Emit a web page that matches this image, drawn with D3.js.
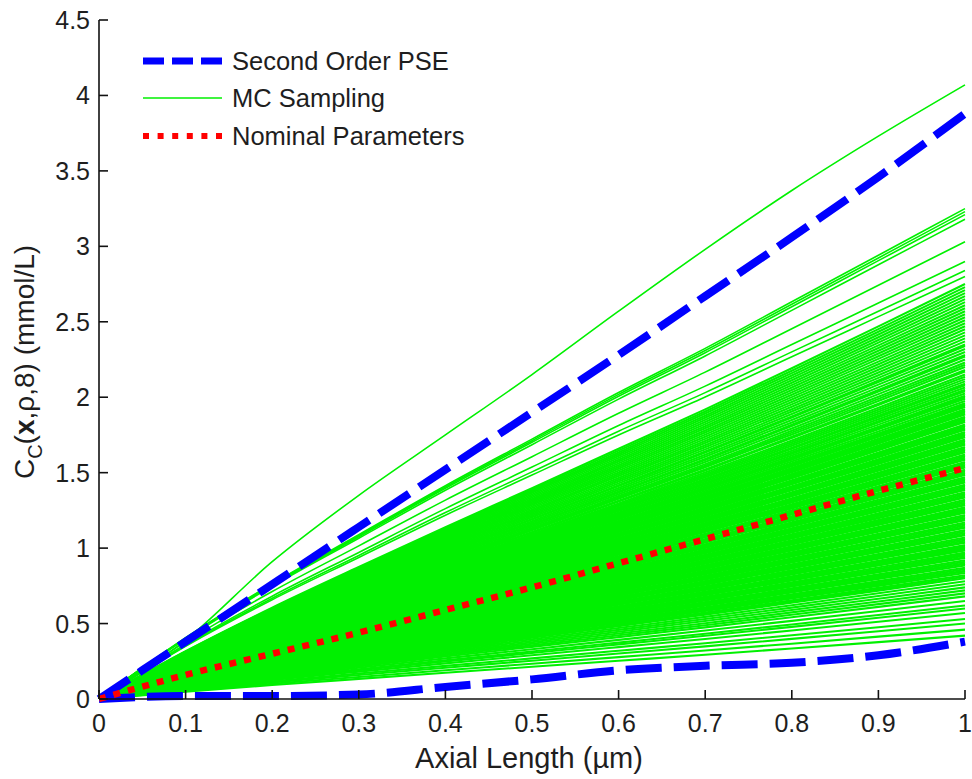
<!DOCTYPE html>
<html><head><meta charset="utf-8">
<script src="https://cdn.jsdelivr.net/npm/d3@7"></script>
<style>html,body{margin:0;padding:0;background:#fff;}svg{display:block;}text{font-family:"Liberation Sans",Arial,sans-serif;fill:#1e1e1e;}</style>
</head><body><svg id="chart" width="972" height="779"></svg>
<script>
// ---------- data ----------
const xValues = [0, 0.1, 0.2, 0.3, 0.4, 0.5, 0.6, 0.7, 0.8, 0.9, 1.0];
const pseUpper = [0, 0.38, 0.76, 1.14, 1.52, 1.90, 2.28, 2.67, 3.06, 3.46, 3.88];
const pseLower = [0, 0.02, 0.02, 0.03, 0.08, 0.13, 0.19, 0.22, 0.24, 0.29, 0.38];
const nominal  = [0, 0.16, 0.30, 0.44, 0.59, 0.74, 0.90, 1.06, 1.22, 1.38, 1.53];
const mcTopLine = [0, 0.39, 0.91, 1.35, 1.75, 2.15, 2.57, 2.98, 3.37, 3.73, 4.07];
const mcUpperProfile = [0, 0.125, 0.235, 0.335, 0.435, 0.53, 0.625, 0.715, 0.81, 0.905, 1];
const mcUpperEnds = [3.25, 3.23, 3.21, 3.18, 3.03, 2.90, 2.84, 2.80];
const mcBundleProfile = [0, 0.115, 0.22, 0.318, 0.414, 0.508, 0.603, 0.698, 0.797, 0.898, 1];
const mcBundleEnds = [
 0.42,0.46,0.50,0.53,0.57,0.60,0.62,0.65,0.68,0.70,0.72,0.74,0.76,0.78,
 0.80,0.81,0.82,0.835,0.845,0.85,0.86,0.87,0.885,0.895,0.90,0.91,0.92,0.935,0.94,0.95,0.96,0.97,0.985,0.99,
 1.00,1.01,1.02,1.035,1.04,1.05,1.06,1.07,1.085,1.09,1.10,1.11,1.12,1.135,1.14,1.15,1.16,1.17,1.185,1.19,
 1.20,1.21,1.22,1.235,1.24,1.25,1.26,1.27,1.285,1.29,1.30,1.31,1.32,1.335,1.34,1.35,1.36,1.37,1.385,1.39,
 1.40,1.41,1.42,1.435,1.44,1.45,1.46,1.47,1.485,1.49,1.50,1.51,1.52,1.535,1.54,1.55,1.56,1.57,1.585,1.59,
 1.60,1.61,1.62,1.635,1.64,1.65,1.66,1.67,1.685,1.69,1.70,1.71,1.72,1.735,1.74,1.75,1.76,1.77,1.785,1.79,
 1.80,1.81,1.82,1.835,1.84,1.85,1.86,1.87,1.885,1.89,1.90,1.91,1.92,1.935,1.94,1.95,1.96,1.975,1.99,2.00,
 2.01,2.025,2.04,2.05,2.065,2.08,2.09,2.105,2.12,2.135,2.15,2.17,2.18,2.20,2.215,2.23,2.25,2.27,2.28,2.30,
 2.32,2.34,2.35,2.37,2.39,2.41,2.43,2.45,2.47,2.49,2.51,2.53,2.55,2.57,2.59,2.61,2.63,2.65,2.67,2.69,2.71,2.73,2.75
];
const xTicks = [0, 0.1, 0.2, 0.3, 0.4, 0.5, 0.6, 0.7, 0.8, 0.9, 1];
const yTicks = [0, 0.5, 1, 1.5, 2, 2.5, 3, 3.5, 4, 4.5];
const legendLabels = ["Second Order PSE", "MC Sampling", "Nominal Parameters"];

// ---------- layout ----------
const svg = d3.select("#chart");
const x = d3.scaleLinear().domain([0, 1]).range([99, 965]);
const y = d3.scaleLinear().domain([0, 4.5]).range([699, 20]);
const GREEN = "#00f000", BLUE = "#0000ff", RED = "#ff0000";

const line = d3.line().x((d, i) => x(xValues[i])).y(d => y(d)).curve(d3.curveMonotoneX);

// MC sampling curves
const bundle = mcBundleEnds.map(e => mcBundleProfile.map(p => p * e));
const upper = mcUpperEnds.map(e => mcUpperProfile.map(p => p * e));

const gMc = svg.append("g").attr("fill", "none").attr("stroke", GREEN);
gMc.selectAll("path.b").data(bundle).join("path").attr("class", "b")
  .attr("d", line).attr("stroke-width", 2.1);
gMc.selectAll("path.u").data(upper).join("path").attr("class", "u")
  .attr("d", line).attr("stroke-width", 1.6);
gMc.append("path").attr("d", line(mcTopLine)).attr("stroke-width", 1.6);

// PSE bounds
[pseUpper, pseLower].forEach(s => {
  svg.append("path").attr("d", line(s)).attr("fill", "none").attr("stroke", BLUE)
    .attr("stroke-width", 8).attr("stroke-dasharray", "36,12");
});
// nominal
svg.append("path").attr("d", line(nominal)).attr("fill", "none").attr("stroke", RED)
  .attr("stroke-width", 6.5).attr("stroke-dasharray", "7,8");

// axes
const axisColor = "#111";
svg.append("line").attr("x1", 99).attr("x2", 99).attr("y1", 20).attr("y2", 699).attr("stroke", axisColor).attr("stroke-width", 1.6);
svg.append("line").attr("x1", 99).attr("x2", 965).attr("y1", 699).attr("y2", 699).attr("stroke", axisColor).attr("stroke-width", 1.6);
svg.selectAll(".xt").data(xTicks).join("line").attr("x1", d => x(d)).attr("x2", d => x(d))
  .attr("y1", 699).attr("y2", 690).attr("stroke", axisColor).attr("stroke-width", 1.6);
svg.selectAll(".yt").data(yTicks).join("line").attr("x1", 99).attr("x2", 108)
  .attr("y1", d => y(d)).attr("y2", d => y(d)).attr("stroke", axisColor).attr("stroke-width", 1.6);

svg.selectAll(".xl").data(xTicks).join("text").attr("x", d => x(d)).attr("y", 732)
  .attr("text-anchor", "middle").attr("font-size", 25).text(d => d3.format("~g")(d));
svg.selectAll(".yl").data(yTicks).join("text").attr("x", 90).attr("y", d => y(d) + 9)
  .attr("text-anchor", "end").attr("font-size", 25).text(d => d3.format("~g")(d));

svg.append("text").attr("x", 529).attr("y", 768).attr("text-anchor", "middle").attr("font-size", 29)
  .text("Axial Length (\u00b5m)");

const yt = svg.append("text").attr("transform", "translate(34,362) rotate(-90)").attr("text-anchor", "middle").attr("font-size", 28);
yt.append("tspan").text("C");
yt.append("tspan").attr("font-size", 20).attr("dy", 8).text("C");
yt.append("tspan").attr("dy", -8).text("(");
yt.append("tspan").attr("font-weight", "bold").text("x");
yt.append("tspan").text(",\u03c1,8) (mmol/L)");

// legend
const legY = [61, 98, 136];
const lg = svg.append("g");
lg.append("line").attr("x1", 143).attr("x2", 222).attr("y1", legY[0]).attr("y2", legY[0])
  .attr("stroke", BLUE).attr("stroke-width", 7).attr("stroke-dasharray", "21,8");
lg.append("line").attr("x1", 143).attr("x2", 222).attr("y1", legY[1]).attr("y2", legY[1])
  .attr("stroke", GREEN).attr("stroke-width", 1.6);
lg.append("line").attr("x1", 143).attr("x2", 222).attr("y1", legY[2]).attr("y2", legY[2])
  .attr("stroke", RED).attr("stroke-width", 6).attr("stroke-dasharray", "6,8.6");
lg.selectAll("text").data(legendLabels).join("text").attr("x", 232).attr("y", (d, i) => legY[i] + 9)
  .attr("font-size", 25.5).text(d => d);
</script></body></html>
